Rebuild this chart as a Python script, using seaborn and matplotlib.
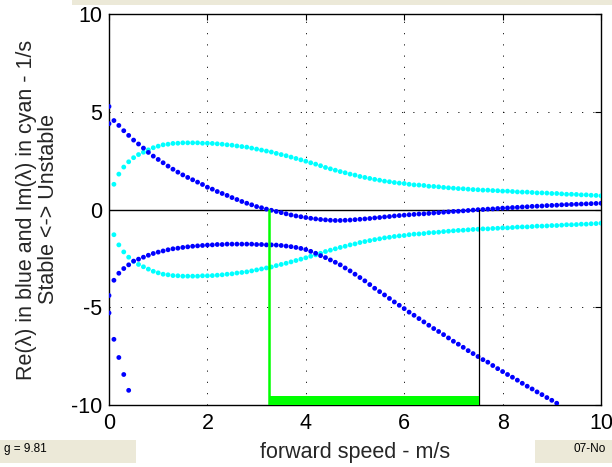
import matplotlib
matplotlib.use('Agg')
import matplotlib.pyplot as plt
from matplotlib.patches import Rectangle
import pandas as pd
import seaborn as sns

# forward speed samples (m/s)
speed = [0.1, 0.2, 0.3, 0.4, 0.5, 0.6, 0.7, 0.8, 0.9, 1.0,
         1.1, 1.2, 1.3, 1.4, 1.5, 1.6, 1.7, 1.8, 1.9, 2.0,
         2.1, 2.2, 2.3, 2.4, 2.5, 2.6, 2.7, 2.8, 2.9, 3.0,
         3.1, 3.2, 3.3, 3.4, 3.5, 3.6, 3.7, 3.8, 3.9, 4.0,
         4.1, 4.2, 4.3, 4.4, 4.5, 4.6, 4.7, 4.8, 4.9, 5.0,
         5.1, 5.2, 5.3, 5.4, 5.5, 5.6, 5.7, 5.8, 5.9, 6.0,
         6.1, 6.2, 6.3, 6.4, 6.5, 6.6, 6.7, 6.8, 6.9, 7.0,
         7.1, 7.2, 7.3, 7.4, 7.5, 7.6, 7.7, 7.8, 7.9, 8.0,
         8.1, 8.2, 8.3, 8.4, 8.5, 8.6, 8.7, 8.8, 8.9, 9.0,
         9.1, 9.2, 9.3, 9.4, 9.5, 9.6, 9.7, 9.8, 9.9, 10.0]

# real eigenvalues at standstill
roots_v0 = [5.27, 4.39, -4.40, -5.29]

# weave mode, real part
re_weave = [4.55, 4.30, 4.03, 3.79, 3.55, 3.35, 3.14, 2.92, 2.73, 2.56,
            2.39, 2.22, 2.06, 1.91, 1.77, 1.64, 1.52, 1.40, 1.28, 1.14,
            1.04, 0.92, 0.82, 0.72, 0.61, 0.51, 0.41, 0.32, 0.24, 0.15,
            0.09, 0.02, -0.04, -0.10, -0.16, -0.22, -0.28, -0.33, -0.37, -0.41,
            -0.45, -0.48, -0.51, -0.53, -0.55, -0.56, -0.56, -0.55, -0.54, -0.52,
            -0.50, -0.48, -0.46, -0.43, -0.41, -0.38, -0.36, -0.33, -0.31, -0.29,
            -0.27, -0.25, -0.23, -0.22, -0.20, -0.18, -0.16, -0.14, -0.12, -0.10,
            -0.09, -0.07, -0.05, -0.03, -0.01, 0.00, 0.02, 0.03, 0.05, 0.07,
            0.08, 0.10, 0.11, 0.13, 0.14, 0.16, 0.17, 0.18, 0.20, 0.21,
            0.22, 0.24, 0.25, 0.26, 0.27, 0.28, 0.29, 0.30, 0.31, 0.32]

# weave mode, imaginary part (plotted as +/- pair)
im_weave = [1.29, 1.81, 2.17, 2.44, 2.65, 2.81, 2.93, 3.05, 3.16, 3.24,
            3.31, 3.34, 3.38, 3.39, 3.41, 3.41, 3.41, 3.41, 3.39, 3.39,
            3.38, 3.36, 3.34, 3.31, 3.29, 3.25, 3.22, 3.19, 3.14, 3.09,
            3.04, 2.99, 2.94, 2.87, 2.81, 2.75, 2.68, 2.61, 2.54, 2.47,
            2.39, 2.32, 2.24, 2.15, 2.08, 2.01, 1.94, 1.88, 1.81, 1.76,
            1.69, 1.64, 1.59, 1.54, 1.50, 1.45, 1.42, 1.38, 1.35, 1.33,
            1.29, 1.26, 1.25, 1.23, 1.19, 1.18, 1.16, 1.13, 1.11, 1.09,
            1.07, 1.06, 1.04, 1.02, 1.01, 0.99, 0.99, 0.97, 0.96, 0.94,
            0.94, 0.92, 0.90, 0.89, 0.89, 0.87, 0.85, 0.85, 0.84, 0.82,
            0.82, 0.80, 0.78, 0.78, 0.77, 0.75, 0.75, 0.73, 0.72, 0.70]

# third real eigenvalue (visible up to 9.1 m/s)
re_low = [-3.62, -3.26, -3.02, -2.83, -2.64, -2.54, -2.44, -2.34, -2.25, -2.18,
          -2.12, -2.06, -2.01, -1.98, -1.94, -1.91, -1.88, -1.86, -1.84, -1.82,
          -1.81, -1.79, -1.79, -1.77, -1.77, -1.77, -1.77, -1.77, -1.77, -1.79,
          -1.79, -1.81, -1.81, -1.82, -1.84, -1.87, -1.90, -1.94, -1.99, -2.05,
          -2.14, -2.24, -2.36, -2.46, -2.58, -2.70, -2.83, -2.99, -3.14, -3.31,
          -3.48, -3.65, -3.84, -4.03, -4.20, -4.37, -4.55, -4.73, -4.90, -5.07,
          -5.25, -5.41, -5.58, -5.75, -5.92, -6.09, -6.24, -6.40, -6.57, -6.74,
          -6.89, -7.05, -7.22, -7.37, -7.52, -7.68, -7.81, -7.98, -8.14, -8.29,
          -8.44, -8.58, -8.73, -8.89, -9.04, -9.18, -9.33, -9.47, -9.62, -9.76,
          -9.91]

# castering mode (leaves the plot after 0.4 m/s)
re_caster = [-6.64, -7.57, -8.44, -9.25]

# stable speed range
v_weave = 3.25
v_capsize = 7.53

# build long table
rows = []
for v, im in zip(speed, im_weave):
    rows.append((v, im, 'Im'))
    rows.append((v, -im, 'Im'))
for r in roots_v0:
    rows.append((0.0, r, 'Re'))
for v, r in zip(speed, re_weave):
    rows.append((v, r, 'Re'))
for v, r in zip(speed, re_low):
    rows.append((v, r, 'Re'))
for v, r in zip(speed, re_caster):
    rows.append((v, r, 'Re'))
df = pd.DataFrame(rows, columns=['speed', 'eig', 'part'])

sns.set_theme(style='white')
plt.rcParams['font.family'] = ['Liberation Sans', 'DejaVu Sans']

W, H = 612, 467
fig = plt.figure(figsize=(W / 100, H / 100), dpi=100)
fig.patch.set_facecolor('white')
ax = fig.add_axes([109 / W, 1 - 405 / H, 492 / W, 391 / H])

# matlab-like grid
ax.set_axisbelow(True)
ax.grid(True, color='black', linestyle=(0, (1.5, 12)), linewidth=0.6)

sns.scatterplot(data=df, x='speed', y='eig', hue='part',
                palette={'Re': (0, 0, 1), 'Im': (0, 1, 1)},
                s=12, linewidth=0, legend=False, ax=ax, zorder=3)

# zero line and stability limits
ax.plot([0, 10], [0, 0], color='black', linewidth=1.0, zorder=2)
ax.plot([v_weave, v_weave], [0, -10], color=(0, 1, 0), linewidth=1.8, zorder=4)
ax.plot([v_capsize, v_capsize], [0, -10], color='black', linewidth=0.9, zorder=4)
ax.fill_between([v_weave, v_capsize], -10, -9.55, color=(0, 1, 0), linewidth=0, zorder=4)

ax.set_xlim(0, 10)
ax.set_ylim(-10, 10)
ax.set_xticks([0, 2, 4, 6, 8, 10])
ax.set_yticks([-10, -5, 0, 5, 10])
ax.set_xticklabels(['0', '2', '4', '6', '8', '10'])
ax.set_yticklabels(['-10', '-5', '0', '5', '10'])
ax.tick_params(direction='in', length=4, width=0.8, colors='black',
               top=True, right=True, labelsize=15.5)
ax.tick_params(axis='x', pad=6)
ax.tick_params(axis='y', pad=5)
for sp in ax.spines.values():
    sp.set_color('black')
    sp.set_linewidth(1.0)

ax.set_xlabel('forward speed - m/s', fontsize=15.5, va='center')
ax.xaxis.set_label_coords(0.5, -0.122)
ax.set_ylabel('Re(λ) in blue and Im(λ) in cyan - 1/s\nStable <-> Unstable',
              fontsize=15.5, va='center', linespacing=1.05)
ax.yaxis.set_label_coords(-0.145, 0.5)

# beige figure panels (cropped matlab window)
beige = '#ECE9D8'
for x0, y0, x1, y1 in [(72, 0, 612, 5), (0, 440, 136, 463), (535, 440, 612, 463)]:
    fig.add_artist(Rectangle((x0 / W, 1 - y1 / H), (x1 - x0) / W, (y1 - y0) / H,
                             transform=fig.transFigure, facecolor=beige,
                             edgecolor='none', zorder=0))
fig.text(47 / W, 1 - 449 / H, 'g = 9.81', ha='right', va='center', fontsize=8.5, color='black')
fig.text(573 / W, 1 - 449 / H, '07-No', ha='left', va='center', fontsize=8.5, color='black')

fig.savefig('out.png', dpi=100)
